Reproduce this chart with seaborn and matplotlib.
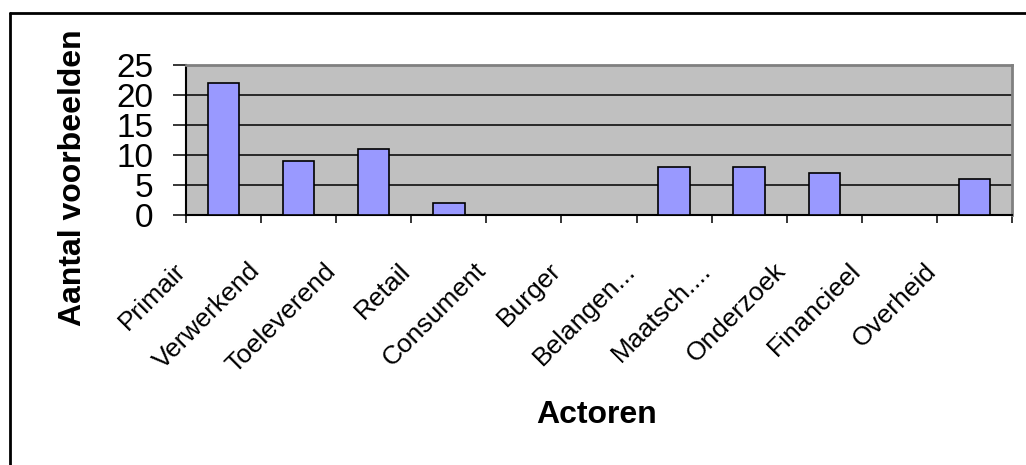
import matplotlib
matplotlib.use("Agg")
import matplotlib.pyplot as plt
import matplotlib.transforms as mtransforms
from matplotlib.lines import Line2D
import seaborn as sns
import pandas as pd

categories = ["Primair", "Verwerkend", "Toeleverend", "Retail", "Consument", "Burger",
              "Belangen...", "Maatsch....", "Onderzoek", "Financieel", "Overheid"]
values = [22, 9, 11, 2, 0, 0, 8, 8, 7, 0, 6]
y_ticks = [0, 5, 10, 15, 20, 25]

sns.set_theme(style="white")
plt.rcParams["font.family"] = ["Liberation Sans", "DejaVu Sans"]
plt.rcParams["text.color"] = "black"
plt.rcParams["xtick.color"] = "black"
plt.rcParams["ytick.color"] = "black"
plt.rcParams["axes.labelcolor"] = "black"

df = pd.DataFrame({"Actor": categories, "Aantal": values})

W, H = 1026, 465
fig = plt.figure(figsize=(W / 100, H / 100), dpi=100)
fig.patch.set_facecolor("white")
ax = fig.add_axes([186 / W, 1 - 215 / H, (1012 - 186) / W, (215 - 65) / H])
ax.set_facecolor("#C0C0C0")

sns.barplot(data=df, x="Actor", y="Aantal", color="#9999FF", saturation=1,
            width=0.42, edgecolor="black", linewidth=1.2, ax=ax, zorder=3)

ax.set_xlim(-0.5, len(categories) - 0.5)
ax.set_ylim(0, 25)
ax.set_yticks(y_ticks)
ax.set_yticklabels([str(t) for t in y_ticks], fontsize=24, color="black")
ax.yaxis.grid(True, color="black", linewidth=1.1, zorder=1)
ax.set_axisbelow(True)
ax.tick_params(axis="y", which="major", left=True, length=9.5, width=1.1,
               color="black", labelcolor="black", pad=14, direction="out")

# category boundary ticks
ax.set_xticks([i - 0.5 for i in range(len(categories) + 1)], minor=True)
ax.tick_params(axis="x", which="minor", bottom=True, length=6, width=1.1,
               color="black", direction="out")
ax.tick_params(axis="x", which="major", bottom=False, length=0, pad=0,
               labelcolor="black")
ax.set_xticks(range(len(categories)))
ax.set_xticklabels(categories, rotation=45, ha="right", va="center",
                   rotation_mode="anchor", fontsize=19, color="black")
offset = mtransforms.ScaledTranslation(-42 / 100, -52 / 100, fig.dpi_scale_trans)
for lab in ax.get_xticklabels():
    lab.set_transform(lab.get_transform() + offset)

for side in ["left", "bottom"]:
    ax.spines[side].set_color("black")
    ax.spines[side].set_linewidth(1.5)
for side in ["top", "right"]:
    ax.spines[side].set_color("#808080")
    ax.spines[side].set_linewidth(2)

ax.set_xlabel("")
ax.set_ylabel("")
fig.text(73 / W, 1 - 178 / H, "Aantal voorbeelden", fontsize=23, fontweight="bold",
         rotation=90, ha="center", va="center", color="black")

fig.text(597 / W, 1 - 415 / H, "Actoren", fontsize=23, fontweight="bold",
         ha="center", va="center", color="black")

# outer chart border (left and top visible)
fig.add_artist(Line2D([10 / W, 10 / W], [1 - 13 / H, -0.05], transform=fig.transFigure,
                      color="black", linewidth=2))
fig.add_artist(Line2D([10 / W, 1.05], [1 - 13 / H, 1 - 13 / H], transform=fig.transFigure,
                      color="black", linewidth=2))

fig.savefig("out.png", dpi=100)
